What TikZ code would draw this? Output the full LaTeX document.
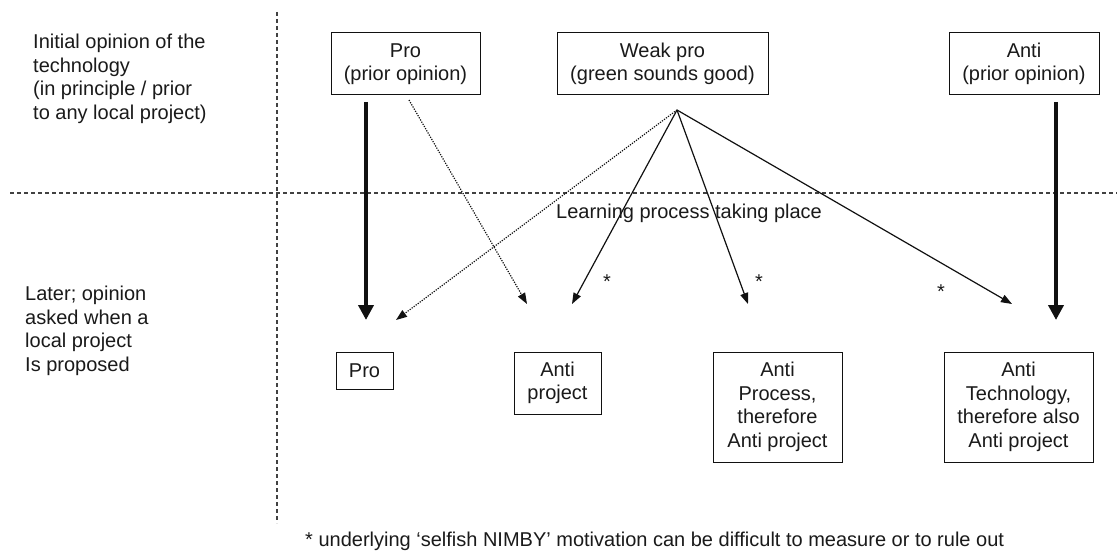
\documentclass[tikz,border=0pt]{standalone}
\usepackage{fontspec}
\setmainfont{Liberation Sans}
\usetikzlibrary{arrows.meta}
\definecolor{txt}{HTML}{1A1A1A}
\definecolor{ln}{HTML}{111111}
\begin{document}
\begin{tikzpicture}[x=1pt,y=-1pt,
  every node/.style={text=txt,font=\fontsize{20}{23.5}\selectfont},
  box/.style={draw=ln,line width=1pt,align=center,inner sep=0pt},
  lbl/.style={align=left,inner sep=0pt},
  sep/.style={draw=ln!80,line width=1.1pt,dash pattern=on 4pt off 3pt},
  thick arrow/.style={draw=ln,line width=4.5pt,-{Triangle[length=15pt,width=15pt]}},
  thin arrow/.style={draw=ln,line width=1.2pt,-{Triangle[length=11pt,width=8pt]}},
  dot arrow/.style={draw=ln,line width=1.2pt,dash pattern=on 1.2pt off 1.3pt,-{Triangle[length=11pt,width=8pt]}},
  star/.style={inner sep=0pt,anchor=base}
]
\useasboundingbox (0,0) rectangle (1120,551);
\fill[white] (0,0) rectangle (1120,551);

% separators
\coordinate (vt) at (277,12);
\coordinate (vb) at (277,523);
\coordinate (hl) at (10,193);
\coordinate (hr) at (1117,193);
\draw[sep] (vt) -- (vb);
\draw[sep] (hl) -- (hr);

% left labels
\node[lbl,anchor=north west] (l1) at (33,34) {Initial opinion of the\\technology\\(in principle / prior\\to any local project)};
\node[lbl,anchor=north west] (l2) at (25,286) {Later; opinion\\asked when a\\local project\\Is proposed};

% top boxes
\node[box,minimum width=149pt,minimum height=62pt] (tpro) at (405.5,64) {Pro\\(prior opinion)};
\node[box,minimum width=211pt,minimum height=62pt] (tweak) at (662.5,64) {Weak pro\\(green sounds good)};
\node[box,minimum width=150pt,minimum height=62pt] (tanti) at (1024,64) {Anti\\(prior opinion)};

% bottom boxes
\node[box,minimum width=57pt,minimum height=37pt] (bpro) at (364.5,370.5) {Pro};
\node[box,minimum width=87pt,minimum height=62pt] (bproj) at (557.5,383) {Anti\\project};
\node[box,minimum width=129pt,minimum height=110pt] (bproc) at (777.5,407) {Anti\\Process,\\therefore\\Anti project};
\node[box,minimum width=149pt,minimum height=110pt] (btech) at (1018.5,407) {Anti\\Technology,\\therefore also\\Anti project};

% connector ends
\coordinate (s1) at (366,102);
\coordinate (e1) at (366,320);
\coordinate (s2) at (1056,102);
\coordinate (e2) at (1056,320);
\coordinate (s3) at (409,100);
\coordinate (e3) at (527,304);
\coordinate (apex) at (677,110);
\coordinate (e4) at (396,320);
\coordinate (e5) at (572,304);
\coordinate (e6) at (748,304);
\coordinate (e7) at (1012,304);

\draw[thick arrow] (s1) -- (e1);
\draw[thick arrow] (s2) -- (e2);
\draw[dot arrow] (s3) -- (e3);
\draw[dot arrow] (apex) -- (e4);
\draw[thin arrow] (apex) -- (e5);
\draw[thin arrow] (apex) -- (e6);
\draw[thin arrow] (apex) -- (e7);

% middle label and stars
\node[inner sep=0pt,anchor=west] (learn) at (556,213) {Learning process taking place};
\node[star] (st1) at (607,288) {*};
\node[star] (st2) at (759,288) {*};
\node[star] (st3) at (941,298) {*};

% footnote
\node[inner sep=0pt,anchor=base west] (foot) at (305,546) {* underlying ‘selfish NIMBY’ motivation can be difficult to measure or to rule out};
\end{tikzpicture}
\end{document}
